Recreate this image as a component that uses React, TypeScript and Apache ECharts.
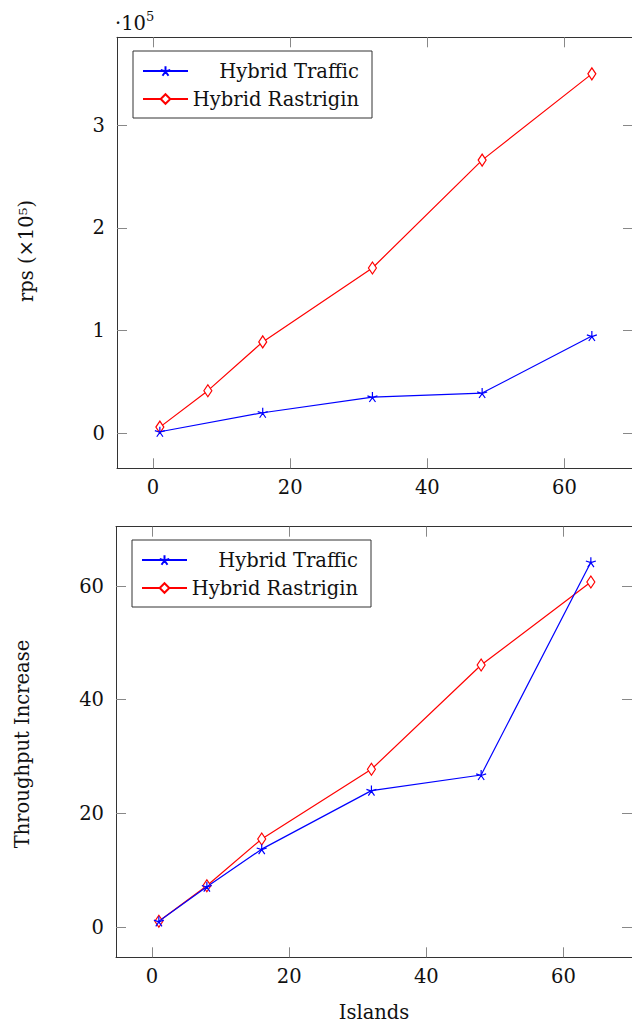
import React, { useEffect, useRef } from "react";
import * as echarts from "echarts";

const X_TOP_RED = [1, 8, 16, 32, 48, 64];
const Y_TOP_RED = [0.06, 0.415, 0.89, 1.61, 2.66, 3.5];
const X_TOP_BLUE = [1, 16, 32, 48, 64];
const Y_TOP_BLUE = [0.015, 0.2, 0.353, 0.392, 0.947];
const X_BOT = [1, 8, 16, 32, 48, 64];
const Y_BOT_BLUE = [1, 7.1, 13.7, 24.0, 26.75, 64.2];
const Y_BOT_RED = [1, 7.25, 15.5, 27.75, 46.1, 60.7];

const X_TICKS = [0, 20, 40, 60];
const Y_TOP_TICKS = [0, 1, 2, 3];
const Y_BOT_TICKS = [0, 20, 40, 60];

const NAME_TRAFFIC = "Hybrid Traffic";
const NAME_RASTRIGIN = "Hybrid Rastrigin";

const FONT = "DejaVu Serif";
const FS = 19.5;
const STAR = "path://M0 -10 L0 0 M9.51 -3.09 L0 0 M5.88 8.09 L0 0 M-5.88 8.09 L0 0 M-9.51 -3.09 L0 0";

const zip = (xs: number[], ys: number[]) => xs.map((x, i) => [x, ys[i]]);

export default function App() {
  const ref = useRef<HTMLDivElement>(null);
  useEffect(() => {
    if (!ref.current) return;
    const chart = echarts.init(ref.current, undefined, { renderer: "svg" });
    const frame = { show: true, onZero: false, lineStyle: { color: "#333", width: 1 } };
    const label = { fontFamily: FONT, fontSize: FS, color: "#111" };
    const tick = (vals: number[]) => ({
      show: true,
      inside: true,
      length: 10,
      customValues: vals,
      lineStyle: { color: "#888", width: 1 },
    });
    const xAx = (grid: number, pos: string, showLabel: boolean) => ({
      type: "value",
      gridIndex: grid,
      position: pos,
      min: -5.25,
      max: 70,
      axisLine: frame,
      axisTick: tick(X_TICKS),
      axisLabel: { show: showLabel, ...label, margin: 9, customValues: X_TICKS },
      splitLine: { show: false },
    });
    const yAx = (grid: number, pos: string, showLabel: boolean, min: number, max: number, ticks: number[]) => ({
      type: "value",
      gridIndex: grid,
      position: pos,
      min,
      max,
      axisLine: frame,
      axisTick: tick(ticks),
      axisLabel: { show: showLabel, ...label, margin: 12, customValues: ticks },
      splitLine: { show: false },
    });
    const blue = (name: string, data: number[][], ax: number) => ({
      type: "line",
      name,
      xAxisIndex: ax,
      yAxisIndex: ax,
      data,
      symbol: STAR,
      symbolSize: 10,
      showSymbol: true,
      color: "#0000ff",
      lineStyle: { color: "#0000ff", width: 1.2 },
      itemStyle: { color: "#0000ff", borderColor: "#0000ff", borderWidth: 1.2 },
      z: 3,
    });
    const red = (name: string, data: number[][], ax: number) => ({
      type: "line",
      name,
      xAxisIndex: ax,
      yAxisIndex: ax,
      data,
      symbol: "diamond",
      symbolSize: [8, 12],
      showSymbol: true,
      color: "#ff0000",
      lineStyle: { color: "#ff0000", width: 1.2 },
      itemStyle: { color: "#ffffff", borderColor: "#ff0000", borderWidth: 1.2 },
      z: 2,
    });
    const legend = (left: number, top: number) => ({
      orient: "vertical",
      left,
      top,
      data: [NAME_TRAFFIC, NAME_RASTRIGIN],
      itemWidth: 45,
      itemHeight: 12,
      itemGap: 8,
      padding: [10, 13, 9, 9],
      borderColor: "#333",
      borderWidth: 1,
      backgroundColor: "#fff",
      formatter: (n: string) => "{r|" + n + "}",
      textStyle: {
        fontFamily: FONT,
        fontSize: FS,
        color: "#111",
        rich: { r: { fontFamily: FONT, fontSize: FS, color: "#111", width: 166, align: "right", lineHeight: 22 } },
      },
    });
    chart.setOption({
      animation: false,
      backgroundColor: "#fff",
      grid: [
        { left: 117, top: 37.3, width: 516, height: 431, containLabel: false },
        { left: 116, top: 526.7, width: 516, height: 430.6, containLabel: false },
      ],
      xAxis: [xAx(0, "bottom", true), xAx(0, "top", false), xAx(1, "bottom", true), xAx(1, "top", false)],
      yAxis: [
        yAx(0, "left", true, -0.341, 3.856, Y_TOP_TICKS),
        yAx(0, "right", false, -0.341, 3.856, Y_TOP_TICKS),
        yAx(1, "left", true, -5.33, 70.44, Y_BOT_TICKS),
        yAx(1, "right", false, -5.33, 70.44, Y_BOT_TICKS),
      ],
      legend: [legend(133, 51), legend(132, 540)],
      series: [
        blue(NAME_TRAFFIC, zip(X_TOP_BLUE, Y_TOP_BLUE), 0),
        red(NAME_RASTRIGIN, zip(X_TOP_RED, Y_TOP_RED), 0),
        blue(NAME_TRAFFIC, zip(X_BOT, Y_BOT_BLUE), 2),
        red(NAME_RASTRIGIN, zip(X_BOT, Y_BOT_RED), 2),
      ],
      graphic: [
        { type: "text", left: 115, top: 13, style: { text: "·10", fontFamily: FONT, fontSize: FS, fill: "#111" } },
        { type: "text", left: 146, top: 10, style: { text: "5", fontFamily: FONT, fontSize: 13, fill: "#111" } },
        {
          type: "text",
          x: 26,
          y: 251,
          rotation: Math.PI / 2,
          style: { text: "rps (×10⁵)", fontFamily: FONT, fontSize: FS, fill: "#111", align: "center", verticalAlign: "middle" },
        },
        {
          type: "text",
          x: 22,
          y: 744,
          rotation: Math.PI / 2,
          style: { text: "Throughput Increase", fontFamily: FONT, fontSize: FS, fill: "#111", align: "center", verticalAlign: "middle" },
        },
        {
          type: "text",
          x: 374,
          y: 1012,
          style: { text: "Islands", fontFamily: FONT, fontSize: FS, fill: "#111", align: "center", verticalAlign: "middle" },
        },
      ],
    });
    return () => chart.dispose();
  }, []);
  return (
    <div style={{ position: "absolute", left: 0, top: 0, width: 632, height: 1023, overflow: "hidden" }}>
      <div ref={ref} style={{ width: 640, height: 1023 }} />
    </div>
  );
}
